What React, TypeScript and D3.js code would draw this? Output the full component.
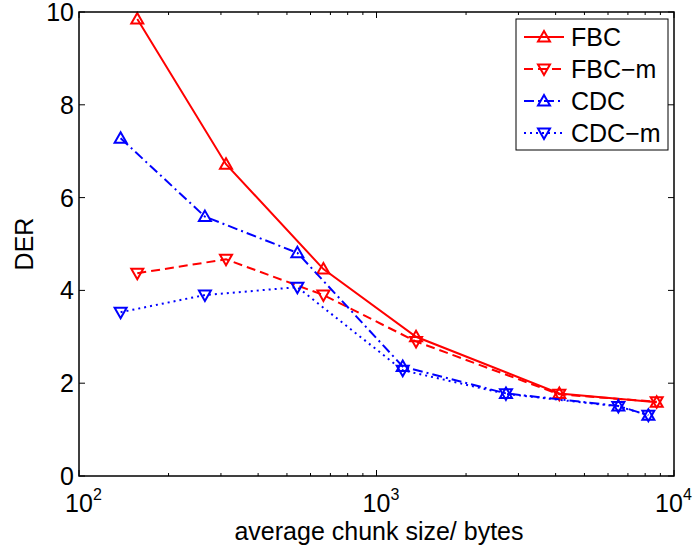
import React from "react";
import * as d3 from "d3";

const fbcX = [157, 312, 663, 1358, 4116, 8746];
const fbcY = [9.85, 6.72, 4.46, 3.0, 1.78, 1.59];
const fbcmX = [157, 312, 663, 1358, 4116, 8746];
const fbcmY = [4.37, 4.67, 3.9, 2.9, 1.76, 1.6];
const cdcX = [138, 265, 542, 1225, 2724, 6500, 8200];
const cdcY = [7.28, 5.59, 4.81, 2.36, 1.78, 1.51, 1.31];
const cdcmX = [138, 265, 542, 1225, 2724, 6500, 8200];
const cdcmY = [3.53, 3.9, 4.07, 2.28, 1.77, 1.5, 1.31];
const seriesNames = ["FBC", "FBC\u2212m", "CDC", "CDC\u2212m"];
const yTicks = [0, 2, 4, 6, 8, 10];
const xMajor = [100, 1000, 10000];
const xExp = ["2", "3", "4"];

const W = 694, H = 549;
const L = 79, R = 674, T = 12, B = 476;
const FONT = "'Liberation Sans', Arial, Helvetica, sans-serif";
const FS = 25;

export default function App() {
  const x = d3.scaleLog().domain([100, 10000]).range([L, R]);
  const y = d3.scaleLinear().domain([0, 10]).range([B, T]);

  const series = [
    { name: seriesNames[0], xs: fbcX, ys: fbcY, color: "#ff0000", dash: "", up: true },
    { name: seriesNames[1], xs: fbcmX, ys: fbcmY, color: "#ff0000", dash: "9,5", up: false },
    { name: seriesNames[2], xs: cdcX, ys: cdcY, color: "#0000ff", dash: "10,4,2,4", up: true },
    { name: seriesNames[3], xs: cdcmX, ys: cdcmY, color: "#0000ff", dash: "2,4", up: false },
  ];

  const line = d3.line<[number, number]>().x(d => x(d[0])).y(d => y(d[1]));
  const tri = (cx: number, cy: number, up: boolean) => {
    const h = 6, w = 6;
    return up
      ? `M${cx},${cy - h} L${cx + w},${cy + h * 0.75} L${cx - w},${cy + h * 0.75} Z`
      : `M${cx},${cy + h} L${cx + w},${cy - h * 0.75} L${cx - w},${cy - h * 0.75} Z`;
  };

  const minor: number[] = [];
  for (let e = 100; e < 10000; e *= 10) for (let k = 2; k <= 9; k++) minor.push(e * k);

  const legX = 516, legY = 19, legW = 152, legH = 131;
  const legRows = [37, 69, 101, 133];

  return (
    <svg width={W} height={H} style={{ position: "absolute", left: 0, top: 0, background: "#fff" }} fontFamily={FONT}>
      <rect x={0} y={0} width={W} height={H} fill="#fff" />
      {/* ticks */}
      <g stroke="#000" strokeWidth={1}>
        {xMajor.map((v, i) => (
          <g key={"xm" + i}>
            <line x1={x(v)} x2={x(v)} y1={B} y2={B - 6} />
            <line x1={x(v)} x2={x(v)} y1={T} y2={T + 6} />
          </g>
        ))}
        {minor.map((v, i) => (
          <g key={"xn" + i}>
            <line x1={x(v)} x2={x(v)} y1={B} y2={B - 3} />
            <line x1={x(v)} x2={x(v)} y1={T} y2={T + 3} />
          </g>
        ))}
        {yTicks.map((v, i) => (
          <g key={"y" + i}>
            <line x1={L} x2={L + 6} y1={y(v)} y2={y(v)} />
            <line x1={R} x2={R - 6} y1={y(v)} y2={y(v)} />
          </g>
        ))}
      </g>
      {/* series */}
      {series.map((s, i) => (
        <g key={"s" + i}>
          <path
            d={line(s.xs.map((v, j) => [v, s.ys[j]] as [number, number])) || ""}
            fill="none"
            stroke={s.color}
            strokeWidth={2}
            strokeDasharray={s.dash || undefined}
          />
          {s.xs.map((v, j) => (
            <path key={j} d={tri(x(v), y(s.ys[j]), s.up)} fill="none" stroke={s.color} strokeWidth={2} />
          ))}
        </g>
      ))}
      {/* axes box */}
      <rect x={L} y={T} width={R - L} height={B - T} fill="none" stroke="#000" strokeWidth={1.5} />
      {/* y tick labels */}
      {yTicks.map((v, i) => (
        <text key={"yl" + i} x={L - 5} y={y(v)} dy="0.36em" textAnchor="end" fontSize={FS}>
          {v}
        </text>
      ))}
      {/* x tick labels */}
      {xMajor.map((v, i) => {
        const cx = Math.min(x(v), R - 5);
        return (
          <g key={"xl" + i}>
            <text x={cx} y={512} textAnchor="middle" fontSize={FS}>10</text>
            <text x={cx + 14} y={500} fontSize={16}>{xExp[i]}</text>
          </g>
        );
      })}
      <text x={379} y={540} textAnchor="middle" fontSize={FS}>
        average chunk size/ bytes
      </text>
      <text transform={`translate(33,${(T + B) / 2}) rotate(-90)`} textAnchor="middle" fontSize={FS}>
        DER
      </text>
      {/* legend */}
      <rect x={legX} y={legY} width={legW} height={legH} fill="#fff" stroke="#000" strokeWidth={1} />
      {series.map((s, i) => (
        <g key={"lg" + i}>
          <line x1={legX + 8} x2={legX + 48} y1={legRows[i]} y2={legRows[i]} stroke={s.color} strokeWidth={2}
            strokeDasharray={s.dash || undefined} />
          <path d={tri(legX + 28, legRows[i], s.up)} fill="none" stroke={s.color} strokeWidth={2} />
          <text x={legX + 55} y={legRows[i]} dy="0.36em" fontSize={FS}>{s.name}</text>
        </g>
      ))}
    </svg>
  );
}
